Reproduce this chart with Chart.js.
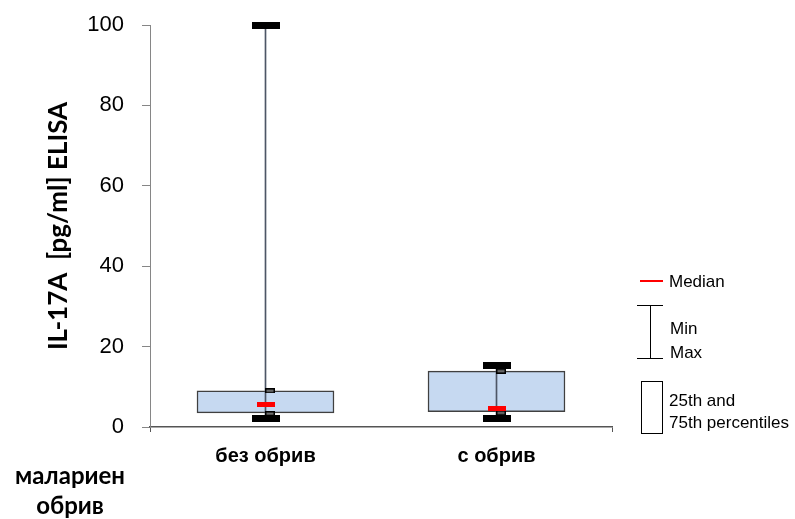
<!DOCTYPE html>
<html>
<head>
<meta charset="utf-8">
<script src="https://cdn.jsdelivr.net/npm/chart.js@4.4.1/dist/chart.umd.min.js"></script>
<style>
  html, body { margin: 0; padding: 0; background: #fff; }
  #wrap { position: relative; width: 795px; height: 519px; overflow: hidden; }
  canvas { position: absolute; left: 0; top: 0; }
  .lg { position: absolute; font-family: "Liberation Sans", Arial, sans-serif; font-size: 17px; color: #000; line-height: 1; white-space: nowrap; }
  .xlab { position: absolute; font-family: Lato, "Open Sans", sans-serif; font-weight: bold; font-size: 24px; color: #000; text-align: center; line-height: 30px; width: 160px; left: -10px; top: 460px; }
</style>
</head>
<body>
<div id="wrap">
  <canvas id="c" width="795" height="519"></canvas>
  <!-- legend -->
  <div style="position:absolute;left:640px;top:280px;width:23px;height:2px;background:#ff0000;"></div>
  <div class="lg" style="left:669px;top:273px;">Median</div>
  <div style="position:absolute;left:637px;top:305px;width:26px;height:1px;background:#000;"></div>
  <div style="position:absolute;left:650px;top:305px;width:1px;height:54px;background:#000;"></div>
  <div style="position:absolute;left:637px;top:358px;width:26px;height:1px;background:#000;"></div>
  <div class="lg" style="left:670px;top:320px;">Min</div>
  <div class="lg" style="left:670px;top:344px;">Max</div>
  <div style="position:absolute;left:641px;top:381px;width:20px;height:51px;border:1px solid #000;"></div>
  <div class="lg" style="left:669px;top:392px;">25th and</div>
  <div class="lg" style="left:669px;top:414px;">75th percentiles</div>
  <div class="xlab">малариен<br>обрив</div>
</div>
<script>
const categories = ['без обрив', 'с обрив'];
const q1Values = [3.5, 3.8];
const q3Values = [9.0, 13.9];
const medianValues = [5.5, 4.7];
const minValues = [2.1, 2.2];
const maxValues = [100, 15.2];
const capHighValues = [9.0, 13.9];
const capLowValues = [3.3, 3.5];
const yTickValues = [0, 20, 40, 60, 80, 100];

function rectImg(w, h, fill, stroke, padLeft) {
  const c = document.createElement('canvas');
  c.width = w + (padLeft || 0) * 2;
  c.height = h;
  const g = c.getContext('2d');
  g.fillStyle = fill;
  g.fillRect((padLeft || 0) * 2, 0, w, h);
  if (stroke) {
    g.strokeStyle = stroke;
    g.lineWidth = 1.5;
    g.strokeRect((padLeft || 0) * 2 + 0.75, 0.75, w - 1.5, h - 1.5);
  }
  return c;
}
const blackBar = rectImg(28, 7, '#000000');
const redBar = rectImg(18, 5, '#ff0000');
const smallCap = rectImg(10, 5, '#808080', '#000000', 4.5);

function markerSet(data, img, order) {
  return {
    type: 'line', data: data, showLine: false, pointStyle: img,
    pointRadius: 5, pointHoverRadius: 5, clip: false, order: order
  };
}

new Chart(document.getElementById('c'), {
  type: 'bar',
  data: {
    labels: categories,
    datasets: [
      {
        data: q1Values.map((v, i) => [v, q3Values[i]]),
        backgroundColor: '#c6d9f1', borderColor: '#404040', borderWidth: 1.5,
        borderSkipped: false, barThickness: 137, grouped: false, order: 6
      },
      {
        data: minValues.map((v, i) => [v, maxValues[i]]),
        backgroundColor: '#4d5666', borderWidth: 0,
        barThickness: 1, grouped: false, order: 5
      },
      markerSet(capHighValues, smallCap, 4),
      markerSet(capLowValues, smallCap, 3),
      markerSet(minValues, blackBar, 2),
      markerSet(maxValues, blackBar, 2),
      markerSet(medianValues, redBar, 1)
    ]
  },
  options: {
    responsive: false,
    devicePixelRatio: 1,
    animation: false,
    events: [],
    layout: { padding: { left: 0, right: 183, top: 25, bottom: 0 } },
    plugins: { legend: { display: false }, tooltip: { enabled: false } },
    scales: {
      x: {
        type: 'category',
        offset: true,
        grid: {
          display: true, drawOnChartArea: false, drawTicks: true, tickLength: 5,
          color: ctx => ctx.index === 1 ? 'rgba(0,0,0,0)' : '#555555'
        },
        border: { color: '#555555', width: 1.5 },
        ticks: { color: '#000', padding: 12, font: { family: 'Liberation Sans', weight: 'bold', size: 20 } },
        afterFit: s => { s.height = 92; }
      },
      y: {
        min: 0, max: 100,
        afterBuildTicks: s => { s.ticks = yTickValues.map(v => ({ value: v })); },
        grid: { drawOnChartArea: false, drawTicks: true, tickLength: 8, color: '#868686' },
        border: { color: '#868686', width: 1 },
        ticks: { color: '#000', padding: 18, font: { family: 'Liberation Sans', size: 22 } },
        title: {
          display: true, text: 'IL-17A  [pg/ml] ELISA', color: '#000',
          font: { family: 'Lato', weight: 'bold', size: 26 },
          padding: { top: 43, bottom: 0 }
        },
        afterFit: s => { s.width = 150; s.paddingTop = 0; s.paddingBottom = 0; }
      }
    }
  }
});
</script>
</body>
</html>
